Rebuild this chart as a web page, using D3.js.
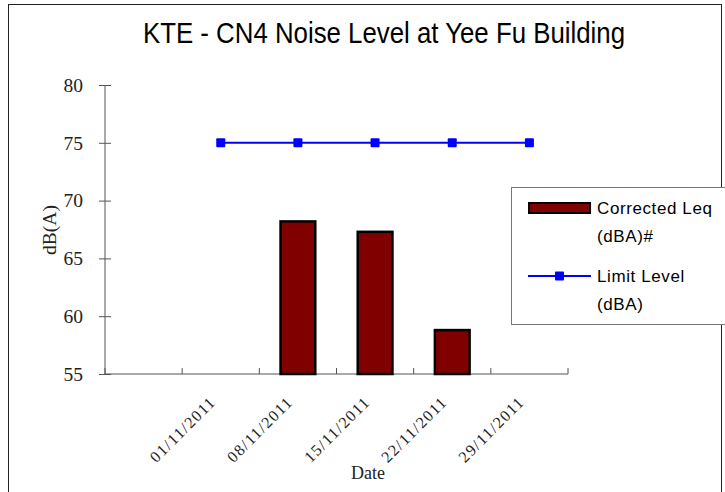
<!DOCTYPE html>
<html>
<head>
<meta charset="utf-8">
<script src="https://cdn.jsdelivr.net/npm/d3@7"></script>
<style>
  body { margin: 0; background: #fff; }
</style>
</head>
<body>
<svg id="chart" width="725" height="492"></svg>
<script>
// data
var dates = ["", "01/11/2011", "08/11/2011", "15/11/2011", "22/11/2011", "29/11/2011"];
var correctedLeq = [null, null, 68.2, 67.3, 58.8, null];
var limitLevel = [null, 75, 75, 75, 75, 75];
var yTicks = [55, 60, 65, 70, 75, 80];

var svg = d3.select("#chart");

// outer frame
svg.append("rect")
    .attr("x", 8.5).attr("y", 4.5)
    .attr("width", 713).attr("height", 495)
    .attr("fill", "white")
    .style("stroke", "#222")
    .style("stroke-width", 1);

svg.append("text")
    .text("KTE - CN4 Noise Level at Yee Fu Building")
    .attr("x", 143).attr("y", 43)
    .attr("textLength", 482)
    .attr("lengthAdjust", "spacingAndGlyphs")
    .style("font-family", "Liberation Sans, Arial")
    .attr("font-size", "30px")
    .style("fill", "black");

var plotL = 105, plotR = 568, plotT = 85, plotB = 374;

var x = d3.scaleBand().domain(d3.range(dates.length)).range([plotL, plotR]);
var y = d3.scaleLinear().domain([55, 80]).range([plotB, plotT]);

// axes
var yAxis = svg.append("g").attr("transform", "translate(" + plotL + ",0)")
    .call(d3.axisLeft(y).tickValues(yTicks).tickSize(6).tickPadding(16));
yAxis.selectAll(".tick line").attr("x2", -6).attr("x1", 6);
yAxis.select(".domain").attr("d", "M0," + plotT + "V" + plotB);
yAxis.selectAll("line, path").style("stroke", "#555");
yAxis.selectAll("text")
    .style("font-family", "Liberation Serif, Times New Roman")
    .attr("font-size", "19.5px").style("fill", "#222");

var xAxis = svg.append("g").attr("transform", "translate(0," + plotB + ")");
xAxis.append("line").attr("x1", plotL).attr("x2", plotR).style("stroke", "#555");
var bounds = d3.range(dates.length + 1).map(function(i) { return plotL + i * x.bandwidth(); });
xAxis.selectAll(".xt").data(bounds).enter().append("line")
    .attr("x1", function(d) { return d; }).attr("x2", function(d) { return d; })
    .attr("y1", 0).attr("y2", -6)
    .style("stroke", "#555");
xAxis.selectAll(".xl").data(dates).enter().append("text")
    .text(function(d) { return d; })
    .attr("text-anchor", "end")
    .attr("textLength", function(d) { return d ? 84 : null; })
    .attr("lengthAdjust", "spacing")
    .attr("transform", function(d, i) {
      return "translate(" + (x(i) + x.bandwidth() / 2 - 5) + ",30) rotate(-45)";
    })
    .style("font-family", "Liberation Serif, Times New Roman")
    .attr("font-size", "16px").style("fill", "#222");

svg.append("text")
    .text("Date")
    .attr("x", 368).attr("y", 479)
    .attr("text-anchor", "middle")
    .style("font-family", "Liberation Serif, Times New Roman")
    .attr("font-size", "18px").style("fill", "#222");

svg.append("text")
    .text("dB(A)")
    .attr("transform", "translate(56,230) rotate(-90)")
    .attr("text-anchor", "middle")
    .style("font-family", "Liberation Serif, Times New Roman")
    .attr("font-size", "19.5px").style("fill", "#222");

// bars
var bw = x.bandwidth() * 0.45;
svg.selectAll(".bar").data(correctedLeq.map(function(v, i) { return {i: i, v: v}; })
    .filter(function(d) { return d.v != null; }))
  .enter().append("rect")
    .attr("x", function(d) { return x(d.i) + (x.bandwidth() - bw) / 2; })
    .attr("y", function(d) { return y(d.v); })
    .attr("width", bw)
    .attr("height", function(d) { return plotB - y(d.v); })
    .attr("fill", "#800000")
    .style("stroke", "black")
    .style("stroke-width", 2.5);

// limit line
var pts = limitLevel.map(function(v, i) { return {i: i, v: v}; }).filter(function(d) { return d.v != null; });
svg.append("path")
    .datum(pts)
    .attr("d", d3.line().x(function(d) { return x(d.i) + x.bandwidth() / 2; }).y(function(d) { return y(d.v); }))
    .attr("fill", "none")
    .style("stroke", "#0000ff")
    .style("stroke-width", 2);
svg.selectAll(".mk").data(pts).enter().append("rect")
    .attr("x", function(d) { return x(d.i) + x.bandwidth() / 2 - 4.5; })
    .attr("y", function(d) { return y(d.v) - 4.5; })
    .attr("width", 9).attr("height", 9).attr("rx", 1)
    .attr("fill", "#0000ff");

// legend
var legend = svg.append("g");
legend.append("rect")
    .attr("x", 511.5).attr("y", 187.5)
    .attr("width", 220).attr("height", 137)
    .attr("fill", "white")
    .style("stroke", "#777").style("stroke-width", 1);
legend.append("rect")
    .attr("x", 529).attr("y", 203).attr("width", 61).attr("height", 10)
    .attr("fill", "#800000").style("stroke", "black").style("stroke-width", 2);
legend.append("line")
    .attr("x1", 528).attr("x2", 591).attr("y1", 276).attr("y2", 276)
    .style("stroke", "#0000ff").style("stroke-width", 2);
legend.append("rect")
    .attr("x", 555).attr("y", 271.5).attr("width", 9).attr("height", 9).attr("rx", 1)
    .attr("fill", "#0000ff");
var lt = [["Corrected Leq", 214], ["(dBA)#", 242], ["Limit Level", 282], ["(dBA)", 310]];
legend.selectAll(".lt").data(lt).enter().append("text")
    .text(function(d) { return d[0]; })
    .attr("x", 597).attr("y", function(d) { return d[1]; })
    .style("font-family", "Liberation Sans, Arial")
    .style("letter-spacing", "0.6px")
    .attr("font-size", "17px").style("fill", "black");
</script>
</body>
</html>
